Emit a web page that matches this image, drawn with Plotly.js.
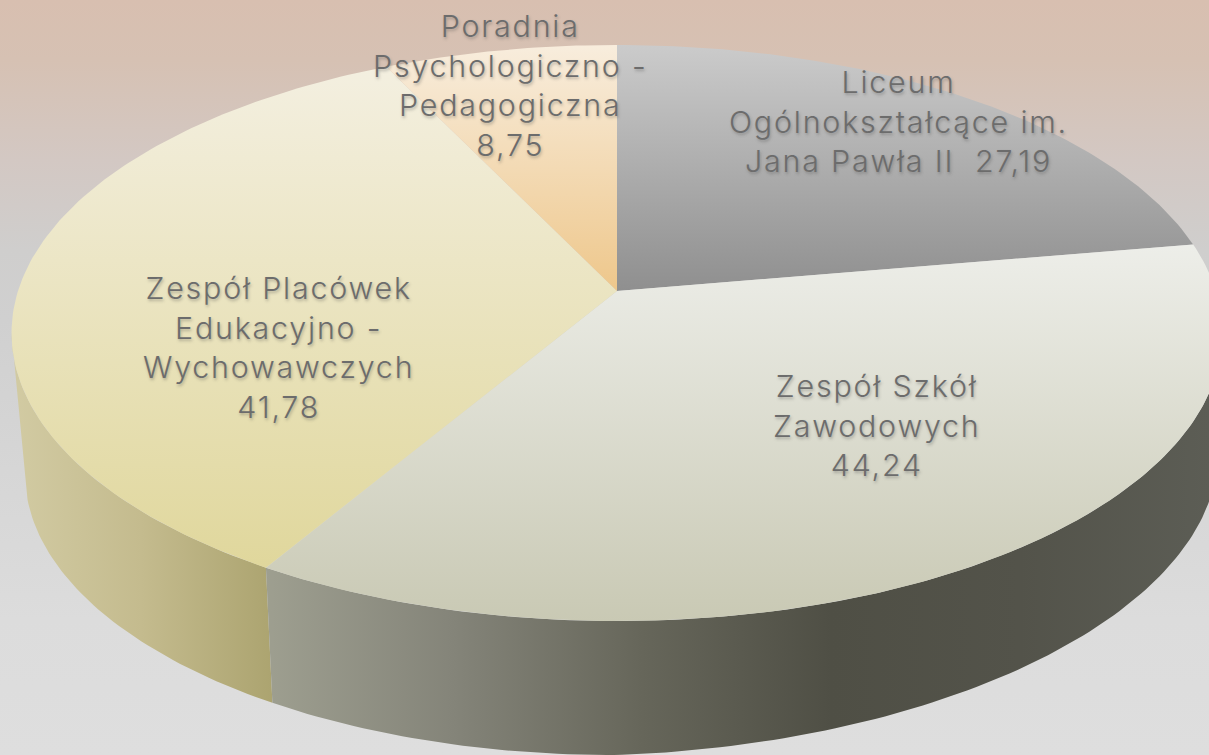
<!DOCTYPE html>
<html lang="pl">
<head>
<meta charset="utf-8">
<script src="https://cdn.plot.ly/plotly-3.0.1.min.js"></script>
<style>
html,body{margin:0;padding:0;width:1209px;height:755px;overflow:hidden;
background:linear-gradient(180deg,#d8bfb0 0,#d6c1b3 60px,#d3c8c3 160px,#cfcecd 250px,#d0d0d0 320px,#dcdcdc 620px,#dedede 755px);}
#chart{width:1209px;height:755px;}
.annotation-text{letter-spacing:1.8px;}
</style>
</head>
<body>
<div id="chart"></div>
<script>
// --- data ---
const categories = ["Liceum Ogólnokształcące im. Jana Pawła II", "Zespół Szkół Zawodowych", "Zespół Placówek Edukacyjno - Wychowawczych", "Poradnia Psychologiczno - Pedagogiczna"];
const values = [27.19, 44.24, 41.78, 8.75];
const labelLines = [
  ["Liceum", "Ogólnokształcące im.", "Jana Pawła II\u00a0\u00a0{v}"],
  ["Zespół Szkół", "Zawodowych", "{v}"],
  ["Zespół Placówek", "Edukacyjno -", "Wychowawczych", "{v}"],
  ["Poradnia", "Psychologiczno -", "Pedagogiczna", "{v}"]
];
const labelX = [898, 877, 278, 510];
const labelY = [121, 425, 347, 85];
const topColors = [["#cbcbcb", "#8f8f8f"], ["#edeee9", "#c9c9b4"], ["#f4f0e2", "#e0d79c"], ["#f8eddd", "#eec78b"]];
const topRange = [[45, 291], [245, 621], [55, 567], [45, 291]];

// --- projection of the tilted disc ---
const W = 1209, H = 755, CX = 617, CY = 291, S = 599, C = 281.9, K = 0.1458;
const LOW = {sxL: 0.973, sxR: 0.997, sy: 0.979, dx: -3, dy: 141, tilt: 0.032};
function rim(turn, low) {
  const a = turn * 2 * Math.PI, X = Math.sin(a), Y = -Math.cos(a), d = 1 - K * Y;
  const px = S * X / d, py = C * Y / d;
  if (!low) return [CX + px, CY + py];
  const right = px > 0;
  return [CX + LOW.dx + (right ? LOW.sxR : LOW.sxL) * px, CY + LOW.dy + LOW.sy * py - (right ? LOW.tilt * px : 0)];
}
function arc(from, to, low) {
  const n = Math.max(2, Math.ceil(Math.abs(to - from) * 400)), pts = [];
  for (let i = 0; i <= n; i++) pts.push(rim(from + (to - from) * i / n, low));
  return pts;
}
function poly(pts, grad) {
  return {type: "scatter", mode: "lines", x: pts.map(p => p[0]), y: pts.map(p => p[1]),
    fill: "toself", fillgradient: grad, line: {width: 0}, hoverinfo: "skip", showlegend: false};
}
function scale(type, start, stop, colors) {
  const cs = colors.map((c, i) => [i / (colors.length - 1), c]);
  return {type, start, stop, colorscale: cs};
}

const total = values.reduce((a, b) => a + b, 0);
const edges = [0];
values.forEach(v => edges.push(edges[edges.length - 1] + v / total));

// side walls (only the two near slices show one)
const LEFT_TANGENT = 0.7267, RIGHT_TANGENT = 0.2733;
const traces = [];
const sideYellow = arc(edges[2], LEFT_TANGENT, false).concat(arc(LEFT_TANGENT, edges[2], true));
traces.push(poly(sideYellow, scale("horizontal", 10, 272, ["#d2cba3", "#c4bb8e", "#aca470"])));
const sideGrey = arc(RIGHT_TANGENT, edges[2], false).concat(arc(edges[2], RIGHT_TANGENT, true));
traces.push(poly(sideGrey, scale("horizontal", 265, 1209, ["#9e9f90", "#848479", "#66665a", "#4f4f45", "#53534a", "#5c5d55"])));

// top faces
values.forEach((v, i) => {
  const pts = [[CX, CY]].concat(arc(edges[i], edges[i + 1], false), [[CX, CY]]);
  traces.push(poly(pts, scale("vertical", topRange[i][0], topRange[i][1], topColors[i])));
});

const fmt = v => v.toFixed(2).replace(".", ",");
const annotations = values.map((v, i) => ({
  xref: "x", yref: "y", x: labelX[i], y: labelY[i], showarrow: false, align: "center",
  xanchor: "center", yanchor: "middle",
  text: labelLines[i].map(l => l.replace("{v}", fmt(v))).join("<br>"),
  font: {family: "Inter, 'Open Sans', sans-serif", size: 30.4, weight: 300, color: "#6c6c6c",
         shadow: "1px 2px 3px rgba(70,70,70,0.35)"}
}));

Plotly.newPlot("chart", traces, {
  width: W, height: H, margin: {l: 0, r: 0, t: 0, b: 0},
  paper_bgcolor: "rgba(0,0,0,0)", plot_bgcolor: "rgba(0,0,0,0)",
  xaxis: {range: [0, W], visible: false, fixedrange: true},
  yaxis: {range: [H, 0], visible: false, fixedrange: true},
  annotations, showlegend: false
}, {displayModeBar: false, staticPlot: true});
</script>
</body>
</html>
